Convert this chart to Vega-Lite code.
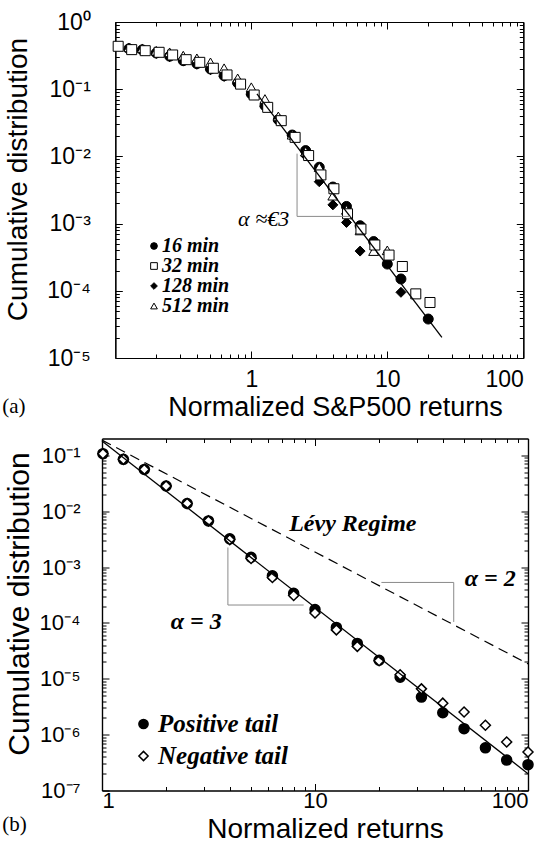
{
  "$schema": "https://vega.github.io/schema/vega-lite/v6.json",
  "background": "white",
  "padding": {"left": 2, "top": 11, "right": 0, "bottom": 0},
  "config": {
    "view": {"stroke": null},
    "axis": {"grid": false, "domain": true, "domainColor": "black", "domainWidth": 1.2, "tickColor": "black", "tickWidth": 1, "labelColor": "black", "titleColor": "black", "labelFont": "Liberation Sans", "titleFont": "Liberation Sans", "titleFontWeight": "normal"},
    "font": "Liberation Sans"
  },
  "resolve": {"scale": {"shape": "independent", "fill": "independent", "stroke": "independent"}, "legend": {"shape": "independent", "fill": "independent", "stroke": "independent"}},
  "datasets": {
    "ptsA": [
      {"x": 0.126, "y": 0.40, "s": "16 min"}, {"x": 0.158, "y": 0.385, "s": "16 min"}, {"x": 0.2, "y": 0.346, "s": "16 min"}, {"x": 0.251, "y": 0.31, "s": "16 min"}, {"x": 0.316, "y": 0.266, "s": "16 min"}, {"x": 0.398, "y": 0.24, "s": "16 min"}, {"x": 0.501, "y": 0.20, "s": "16 min"}, {"x": 0.631, "y": 0.159, "s": "16 min"}, {"x": 0.794, "y": 0.124, "s": "16 min"}, {"x": 1.0, "y": 0.085, "s": "16 min"}, {"x": 1.26, "y": 0.057, "s": "16 min"}, {"x": 1.58, "y": 0.0352, "s": "16 min"}, {"x": 2.0, "y": 0.0208, "s": "16 min"}, {"x": 2.51, "y": 0.0122, "s": "16 min"}, {"x": 3.16, "y": 0.0069, "s": "16 min"}, {"x": 3.98, "y": 0.0035, "s": "16 min"}, {"x": 5.01, "y": 0.0018, "s": "16 min"}, {"x": 6.31, "y": 0.00093, "s": "16 min"}, {"x": 7.94, "y": 0.00054, "s": "16 min"}, {"x": 10.0, "y": 0.00025, "s": "16 min"}, {"x": 12.6, "y": 0.00015, "s": "16 min"}, {"x": 20.0, "y": 0.000038, "s": "16 min"},
      {"x": 0.126, "y": 0.39, "s": "128 min"}, {"x": 0.158, "y": 0.375, "s": "128 min"}, {"x": 0.2, "y": 0.34, "s": "128 min"}, {"x": 0.251, "y": 0.305, "s": "128 min"}, {"x": 0.316, "y": 0.262, "s": "128 min"}, {"x": 0.398, "y": 0.235, "s": "128 min"}, {"x": 0.501, "y": 0.195, "s": "128 min"}, {"x": 0.631, "y": 0.155, "s": "128 min"}, {"x": 0.794, "y": 0.12, "s": "128 min"}, {"x": 1.0, "y": 0.083, "s": "128 min"}, {"x": 1.26, "y": 0.055, "s": "128 min"}, {"x": 1.58, "y": 0.034, "s": "128 min"}, {"x": 2.0, "y": 0.0203, "s": "128 min"}, {"x": 2.51, "y": 0.0102, "s": "128 min"}, {"x": 3.16, "y": 0.0042, "s": "128 min"}, {"x": 3.98, "y": 0.0019, "s": "128 min"}, {"x": 5.01, "y": 0.00104, "s": "128 min"}, {"x": 6.31, "y": 0.00039, "s": "128 min"}, {"x": 12.6, "y": 0.000095, "s": "128 min"},
      {"x": 0.126, "y": 0.42, "s": "512 min"}, {"x": 0.158, "y": 0.406, "s": "512 min"}, {"x": 0.2, "y": 0.374, "s": "512 min"}, {"x": 0.251, "y": 0.354, "s": "512 min"}, {"x": 0.316, "y": 0.316, "s": "512 min"}, {"x": 0.398, "y": 0.288, "s": "512 min"}, {"x": 0.501, "y": 0.251, "s": "512 min"}, {"x": 0.631, "y": 0.205, "s": "512 min"}, {"x": 0.794, "y": 0.145, "s": "512 min"}, {"x": 1.0, "y": 0.107, "s": "512 min"}, {"x": 1.26, "y": 0.0715, "s": "512 min"}, {"x": 1.58, "y": 0.0394, "s": "512 min"}, {"x": 2.0, "y": 0.021, "s": "512 min"}, {"x": 2.51, "y": 0.0118, "s": "512 min"}, {"x": 3.16, "y": 0.0069, "s": "512 min"}, {"x": 3.98, "y": 0.0026, "s": "512 min"}, {"x": 5.01, "y": 0.0016, "s": "512 min"}, {"x": 6.31, "y": 0.00079, "s": "512 min"}, {"x": 7.94, "y": 0.00039, "s": "512 min"}, {"x": 10.0, "y": 0.0004, "s": "512 min"},
      {"x": 0.105, "y": 0.435, "s": "32 min"}, {"x": 0.132, "y": 0.388, "s": "32 min"}, {"x": 0.166, "y": 0.374, "s": "32 min"}, {"x": 0.21, "y": 0.354, "s": "32 min"}, {"x": 0.264, "y": 0.323, "s": "32 min"}, {"x": 0.332, "y": 0.275, "s": "32 min"}, {"x": 0.418, "y": 0.251, "s": "32 min"}, {"x": 0.526, "y": 0.205, "s": "32 min"}, {"x": 0.663, "y": 0.163, "s": "32 min"}, {"x": 0.834, "y": 0.119, "s": "32 min"}, {"x": 1.05, "y": 0.082, "s": "32 min"}, {"x": 1.32, "y": 0.0537, "s": "32 min"}, {"x": 1.66, "y": 0.034, "s": "32 min"}, {"x": 2.1, "y": 0.0192, "s": "32 min"}, {"x": 2.64, "y": 0.0103, "s": "32 min"}, {"x": 3.25, "y": 0.0053, "s": "32 min"}, {"x": 4.05, "y": 0.0033, "s": "32 min"}, {"x": 5.1, "y": 0.0014, "s": "32 min"}, {"x": 6.4, "y": 0.00083, "s": "32 min"}, {"x": 8.1, "y": 0.00048, "s": "32 min"}, {"x": 10.3, "y": 0.00034, "s": "32 min"}, {"x": 12.9, "y": 0.00023, "s": "32 min"}, {"x": 16.2, "y": 0.00009, "s": "32 min"}, {"x": 20.6, "y": 0.000067, "s": "32 min"}
    ],
    "fitA": [{"x": 1.1, "y": 0.085}, {"x": 25.2, "y": 0.0000203}],
    "triA": [{"x": 2.17, "y": 0.011, "o": 1}, {"x": 2.17, "y": 0.00128, "o": 2}, {"x": 5.35, "y": 0.00128, "o": 3}],
    "txtA": [{"x": 1.9, "y": 0.00117, "t": "α ≈€3"}],
    "ptsB": [
      {"x": 1.01, "y": 0.107, "s": "Positive tail"}, {"x": 1.26, "y": 0.0848, "s": "Positive tail"}, {"x": 1.58, "y": 0.056, "s": "Positive tail"}, {"x": 2.0, "y": 0.0283, "s": "Positive tail"}, {"x": 2.51, "y": 0.0137, "s": "Positive tail"}, {"x": 3.16, "y": 0.0067, "s": "Positive tail"}, {"x": 3.98, "y": 0.0032, "s": "Positive tail"}, {"x": 5.01, "y": 0.0015, "s": "Positive tail"}, {"x": 6.31, "y": 0.0007, "s": "Positive tail"}, {"x": 7.94, "y": 0.00034, "s": "Positive tail"}, {"x": 10.0, "y": 0.000173, "s": "Positive tail"}, {"x": 12.6, "y": 0.000083, "s": "Positive tail"}, {"x": 15.8, "y": 0.000043, "s": "Positive tail"}, {"x": 20.0, "y": 0.0000215, "s": "Positive tail"}, {"x": 25.1, "y": 0.0000107, "s": "Positive tail"}, {"x": 31.6, "y": 0.0000047, "s": "Positive tail"}, {"x": 39.8, "y": 0.00000247, "s": "Positive tail"}, {"x": 50.1, "y": 0.00000128, "s": "Positive tail"}, {"x": 63.1, "y": 0.00000058, "s": "Positive tail"}, {"x": 79.4, "y": 0.00000035, "s": "Positive tail"}, {"x": 100.0, "y": 0.00000029, "s": "Positive tail"},
      {"x": 1.01, "y": 0.107, "s": "Negative tail"}, {"x": 1.26, "y": 0.0848, "s": "Negative tail"}, {"x": 1.58, "y": 0.056, "s": "Negative tail"}, {"x": 2.0, "y": 0.0283, "s": "Negative tail"}, {"x": 2.51, "y": 0.0137, "s": "Negative tail"}, {"x": 3.16, "y": 0.0067, "s": "Negative tail"}, {"x": 3.98, "y": 0.0031, "s": "Negative tail"}, {"x": 5.01, "y": 0.00142, "s": "Negative tail"}, {"x": 6.31, "y": 0.00065, "s": "Negative tail"}, {"x": 7.94, "y": 0.00031, "s": "Negative tail"}, {"x": 10.0, "y": 0.000151, "s": "Negative tail"}, {"x": 12.6, "y": 0.000075, "s": "Negative tail"}, {"x": 15.8, "y": 0.000038, "s": "Negative tail"}, {"x": 20.0, "y": 0.000021, "s": "Negative tail"}, {"x": 25.1, "y": 0.0000118, "s": "Negative tail"}, {"x": 31.6, "y": 0.0000066, "s": "Negative tail"}, {"x": 39.8, "y": 0.00000366, "s": "Negative tail"}, {"x": 50.1, "y": 0.00000254, "s": "Negative tail"}, {"x": 63.1, "y": 0.00000147, "s": "Negative tail"}, {"x": 79.4, "y": 0.00000074, "s": "Negative tail"}, {"x": 100.0, "y": 0.00000049, "s": "Negative tail"}
    ],
    "fitB": [{"x": 1.0, "y": 0.18}, {"x": 100.0, "y": 0.0000002}],
    "levyB": [{"x": 1.0, "y": 0.187}, {"x": 100.0, "y": 0.0000185}],
    "triB": [
      {"x": 3.9, "y": 0.00224, "o": 1, "g": "a3"}, {"x": 3.9, "y": 0.000209, "o": 2, "g": "a3"}, {"x": 8.85, "y": 0.000209, "o": 3, "g": "a3"},
      {"x": 20.5, "y": 0.00053, "o": 1, "g": "a2"}, {"x": 44.8, "y": 0.00053, "o": 2, "g": "a2"}, {"x": 44.8, "y": 0.000104, "o": 3, "g": "a2"}
    ],
    "txtB": [{"x": 15.05, "y": 0.0059, "t": "Lévy Regime"}, {"x": 66.5, "y": 0.00062, "t": "α = 2"}, {"x": 2.77, "y": 0.000105, "t": "α = 3"}]
  },
  "concat": [
    {
      "width": 421.3,
      "height": 336,
      "title": {"text": "(a)", "orient": "bottom", "anchor": "start", "frame": "group", "dx": -99.7, "offset": -7, "baseline": "alphabetic", "font": "Liberation Serif", "fontSize": 21, "fontWeight": "normal", "color": "black"},
      "resolve": {"axis": {"x": "independent", "y": "independent"}},
      "layer": [
        {
          "data": {"name": "ptsA"},
          "mark": {"type": "point", "filled": true, "strokeWidth": 1, "opacity": 1, "size": 100},
          "encoding": {
            "x": {"field": "x", "type": "quantitative", "scale": {"type": "log", "domain": [0.1, 100], "range": [13.3, 421.3], "nice": false},
              "axis": {"orient": "bottom", "values": [1, 10, 100], "tickSize": -7, "labelPadding": 17, "labelFontSize": 23, "labelExpr": "format(datum.value, 'd')", "title": "Normalized S&P500 returns", "titleFontSize": 27, "titleX": 233, "titleY": 57, "titleBaseline": "alphabetic", "titleAlign": "center"}},
            "y": {"field": "y", "type": "quantitative", "scale": {"type": "log", "domain": [0.00001, 1], "nice": false},
              "axis": {"orient": "left", "offset": -13.3, "values": [0.00001, 0.0001, 0.001, 0.01, 0.1, 1], "tickSize": -7, "labelPadding": 32, "labelFontSize": 23, "labelExpr": "'10' + (datum.value < 0.5 ? '⁻' : '') + ['⁰','¹','²','³','⁴','⁵','⁶','⁷'][round(abs(log(datum.value) / LN10))]", "title": "Cumulative distribution", "titleFontSize": 28, "titleX": -83, "titleY": 157, "titleAngle": 270, "titleBaseline": "bottom", "titleAlign": "center"}},
            "shape": {"field": "s", "type": "nominal", "scale": {"domain": ["16 min", "32 min", "128 min", "512 min"], "range": ["circle", "square", "diamond", "triangle-up"]},
              "legend": {"orient": "none", "legendX": 42, "legendY": 214, "title": null, "labelFont": "Liberation Serif", "labelFontSize": 20, "labelFontStyle": "italic", "labelFontWeight": "bold", "labelColor": "black", "symbolSize": 45, "symbolStrokeWidth": 1, "rowPadding": 0, "labelOffset": -2, "padding": 0}},
            "fill": {"field": "s", "type": "nominal", "scale": {"domain": ["16 min", "32 min", "128 min", "512 min"], "range": ["black", "white", "black", "white"]},
              "legend": {"orient": "none", "legendX": 42, "legendY": 214, "title": null, "labelFont": "Liberation Serif", "labelFontSize": 20, "labelFontStyle": "italic", "labelFontWeight": "bold", "labelColor": "black", "symbolSize": 45, "symbolStrokeWidth": 1, "rowPadding": 0, "labelOffset": -2, "padding": 0}},
            "stroke": {"field": "s", "type": "nominal", "scale": {"domain": ["16 min", "32 min", "128 min", "512 min"], "range": ["black", "black", "black", "black"]},
              "legend": {"orient": "none", "legendX": 42, "legendY": 214, "title": null, "labelFont": "Liberation Serif", "labelFontSize": 20, "labelFontStyle": "italic", "labelFontWeight": "bold", "labelColor": "black", "symbolSize": 45, "symbolStrokeWidth": 1, "rowPadding": 0, "labelOffset": -2, "padding": 0}}
          }
        },
        {
          "data": {"name": "fitA"},
          "mark": {"type": "line", "color": "black", "strokeWidth": 1.3},
          "encoding": {
            "x": {"field": "x", "type": "quantitative", "scale": {"type": "log", "domain": [0.1, 100], "range": [13.3, 421.3], "nice": false},
              "axis": {"orient": "top", "values": [0.1, 1, 10, 100], "tickSize": -7, "labels": false, "title": null}},
            "y": {"field": "y", "type": "quantitative", "scale": {"type": "log", "domain": [0.00001, 1], "nice": false},
              "axis": {"orient": "right", "values": [0.00001, 0.0001, 0.001, 0.01, 0.1, 1], "tickSize": -7, "labels": false, "title": null}}
          }
        },
        {
          "data": {"name": "triA"},
          "mark": {"type": "line", "color": "#8a8a8a", "strokeWidth": 1},
          "encoding": {
            "x": {"field": "x", "type": "quantitative", "scale": {"type": "log", "domain": [0.1, 100], "range": [13.3, 421.3], "nice": false},
              "axis": {"orient": "bottom", "values": [0.2, 0.3, 0.4, 0.5, 0.6, 0.7, 0.8, 0.9, 2, 3, 4, 5, 6, 7, 8, 9, 20, 30, 40, 50, 60, 70, 80, 90], "tickSize": -4, "labels": false, "title": null}},
            "y": {"field": "y", "type": "quantitative", "scale": {"type": "log", "domain": [0.00001, 1], "nice": false},
              "axis": {"orient": "left", "offset": -13.3, "values": [0.00002, 0.00003, 0.00004, 0.00005, 0.00006, 0.00007, 0.00008, 0.00009, 0.0002, 0.0003, 0.0004, 0.0005, 0.0006, 0.0007, 0.0008, 0.0009, 0.002, 0.003, 0.004, 0.005, 0.006, 0.007, 0.008, 0.009, 0.02, 0.03, 0.04, 0.05, 0.06, 0.07, 0.08, 0.09, 0.2, 0.3, 0.4, 0.5, 0.6, 0.7, 0.8, 0.9], "tickSize": -4, "labels": false, "title": null}},
            "order": {"field": "o", "type": "quantitative"}
          }
        },
        {
          "data": {"name": "txtA"},
          "mark": {"type": "text", "align": "right", "baseline": "middle", "font": "Liberation Serif", "fontSize": 22, "fontStyle": "italic", "color": "black"},
          "encoding": {
            "x": {"field": "x", "type": "quantitative", "scale": {"type": "log", "domain": [0.1, 100], "range": [13.3, 421.3], "nice": false},
              "axis": {"orient": "top", "values": [0.2, 0.3, 0.4, 0.5, 0.6, 0.7, 0.8, 0.9, 2, 3, 4, 5, 6, 7, 8, 9, 20, 30, 40, 50, 60, 70, 80, 90], "tickSize": -4, "labels": false, "title": null}},
            "y": {"field": "y", "type": "quantitative", "scale": {"type": "log", "domain": [0.00001, 1], "nice": false},
              "axis": {"orient": "right", "values": [0.00002, 0.00003, 0.00004, 0.00005, 0.00006, 0.00007, 0.00008, 0.00009, 0.0002, 0.0003, 0.0004, 0.0005, 0.0006, 0.0007, 0.0008, 0.0009, 0.002, 0.003, 0.004, 0.005, 0.006, 0.007, 0.008, 0.009, 0.02, 0.03, 0.04, 0.05, 0.06, 0.07, 0.08, 0.09, 0.2, 0.3, 0.4, 0.5, 0.6, 0.7, 0.8, 0.9], "tickSize": -4, "labels": false, "title": null}},
            "text": {"field": "t", "type": "nominal"}
          }
        }
      ]
    },
    {
      "width": 426,
      "height": 352,
      "title": {"text": "(b)", "orient": "bottom", "anchor": "start", "frame": "group", "dx": -99.7, "offset": -13, "baseline": "alphabetic", "font": "Liberation Serif", "fontSize": 21, "fontWeight": "normal", "color": "black"},
      "resolve": {"axis": {"x": "independent", "y": "independent"}},
      "layer": [
        {
          "data": {"name": "ptsB"},
          "mark": {"type": "point", "filled": true, "strokeWidth": 1.5, "opacity": 1, "size": 100},
          "encoding": {
            "x": {"field": "x", "type": "quantitative", "scale": {"type": "log", "domain": [1, 100], "nice": false},
              "axis": {"orient": "bottom", "values": [1, 10, 100], "tickSize": -7, "labelPadding": 7, "labelFontSize": 22, "labelExpr": "format(datum.value, 'd')", "title": "Normalized returns", "titleFontSize": 28, "titleX": 223, "titleY": 47, "titleBaseline": "alphabetic", "titleAlign": "center"}},
            "y": {"field": "y", "type": "quantitative", "scale": {"type": "log", "domain": [0.0000001, 0.2], "nice": false},
              "axis": {"orient": "left", "values": [0.0000001, 0.000001, 0.00001, 0.0001, 0.001, 0.01, 0.1], "tickSize": -7, "labelPadding": 29, "labelFontSize": 22, "labelExpr": "'10' + (datum.value < 0.5 ? '⁻' : '') + ['⁰','¹','²','³','⁴','⁵','⁶','⁷'][round(abs(log(datum.value) / LN10))]", "title": "Cumulative distribution", "titleFontSize": 30, "titleX": -68, "titleY": 165, "titleAngle": 270, "titleBaseline": "bottom", "titleAlign": "center"}},
            "shape": {"field": "s", "type": "nominal", "scale": {"domain": ["Positive tail", "Negative tail"], "range": ["circle", "diamond"]},
              "legend": {"orient": "none", "legendX": 29, "legendY": 273, "title": null, "labelFont": "Liberation Serif", "labelFontSize": 25, "labelFontStyle": "italic", "labelFontWeight": "bold", "labelColor": "black", "symbolSize": 85, "symbolStrokeWidth": 1.5, "rowPadding": 6, "labelOffset": 2, "padding": 0}},
            "fill": {"field": "s", "type": "nominal", "scale": {"domain": ["Positive tail", "Negative tail"], "range": ["black", "white"]},
              "legend": {"orient": "none", "legendX": 29, "legendY": 273, "title": null, "labelFont": "Liberation Serif", "labelFontSize": 25, "labelFontStyle": "italic", "labelFontWeight": "bold", "labelColor": "black", "symbolSize": 85, "symbolStrokeWidth": 1.5, "rowPadding": 6, "labelOffset": 2, "padding": 0}},
            "stroke": {"field": "s", "type": "nominal", "scale": {"domain": ["Positive tail", "Negative tail"], "range": ["black", "black"]},
              "legend": {"orient": "none", "legendX": 29, "legendY": 273, "title": null, "labelFont": "Liberation Serif", "labelFontSize": 25, "labelFontStyle": "italic", "labelFontWeight": "bold", "labelColor": "black", "symbolSize": 85, "symbolStrokeWidth": 1.5, "rowPadding": 6, "labelOffset": 2, "padding": 0}}
          }
        },
        {
          "data": {"name": "fitB"},
          "mark": {"type": "line", "color": "black", "strokeWidth": 1.3},
          "encoding": {
            "x": {"field": "x", "type": "quantitative", "scale": {"type": "log", "domain": [1, 100], "nice": false},
              "axis": {"orient": "top", "values": [1, 10, 100], "tickSize": -7, "labels": false, "title": null}},
            "y": {"field": "y", "type": "quantitative", "scale": {"type": "log", "domain": [0.0000001, 0.2], "nice": false},
              "axis": {"orient": "right", "values": [0.0000001, 0.000001, 0.00001, 0.0001, 0.001, 0.01, 0.1], "tickSize": -7, "labels": false, "title": null}}
          }
        },
        {
          "data": {"name": "levyB"},
          "mark": {"type": "line", "color": "black", "strokeWidth": 1.2, "strokeDash": [10, 6]},
          "encoding": {
            "x": {"field": "x", "type": "quantitative", "scale": {"type": "log", "domain": [1, 100], "nice": false}, "axis": null},
            "y": {"field": "y", "type": "quantitative", "scale": {"type": "log", "domain": [0.0000001, 0.2], "nice": false}, "axis": null}
          }
        },
        {
          "data": {"name": "triB"},
          "mark": {"type": "line", "color": "#8a8a8a", "strokeWidth": 1},
          "encoding": {
            "x": {"field": "x", "type": "quantitative", "scale": {"type": "log", "domain": [1, 100], "nice": false},
              "axis": {"orient": "bottom", "values": [2, 3, 4, 5, 6, 7, 8, 9, 20, 30, 40, 50, 60, 70, 80, 90], "tickSize": -4, "labels": false, "title": null}},
            "y": {"field": "y", "type": "quantitative", "scale": {"type": "log", "domain": [0.0000001, 0.2], "nice": false},
              "axis": {"orient": "left", "values": [0.0000002, 0.0000003, 0.0000004, 0.0000005, 0.0000006, 0.0000007, 0.0000008, 0.0000009, 0.000002, 0.000003, 0.000004, 0.000005, 0.000006, 0.000007, 0.000008, 0.000009, 0.00002, 0.00003, 0.00004, 0.00005, 0.00006, 0.00007, 0.00008, 0.00009, 0.0002, 0.0003, 0.0004, 0.0005, 0.0006, 0.0007, 0.0008, 0.0009, 0.002, 0.003, 0.004, 0.005, 0.006, 0.007, 0.008, 0.009, 0.02, 0.03, 0.04, 0.05, 0.06, 0.07, 0.08, 0.09], "tickSize": -4, "labels": false, "title": null}},
            "detail": {"field": "g", "type": "nominal"},
            "order": {"field": "o", "type": "quantitative"}
          }
        },
        {
          "data": {"name": "txtB"},
          "mark": {"type": "text", "align": "center", "baseline": "middle", "font": "Liberation Serif", "fontSize": 24, "fontStyle": "italic", "fontWeight": "bold", "color": "black"},
          "encoding": {
            "x": {"field": "x", "type": "quantitative", "scale": {"type": "log", "domain": [1, 100], "nice": false},
              "axis": {"orient": "top", "values": [2, 3, 4, 5, 6, 7, 8, 9, 20, 30, 40, 50, 60, 70, 80, 90], "tickSize": -4, "labels": false, "title": null}},
            "y": {"field": "y", "type": "quantitative", "scale": {"type": "log", "domain": [0.0000001, 0.2], "nice": false},
              "axis": {"orient": "right", "values": [0.0000002, 0.0000003, 0.0000004, 0.0000005, 0.0000006, 0.0000007, 0.0000008, 0.0000009, 0.000002, 0.000003, 0.000004, 0.000005, 0.000006, 0.000007, 0.000008, 0.000009, 0.00002, 0.00003, 0.00004, 0.00005, 0.00006, 0.00007, 0.00008, 0.00009, 0.0002, 0.0003, 0.0004, 0.0005, 0.0006, 0.0007, 0.0008, 0.0009, 0.002, 0.003, 0.004, 0.005, 0.006, 0.007, 0.008, 0.009, 0.02, 0.03, 0.04, 0.05, 0.06, 0.07, 0.08, 0.09], "tickSize": -4, "labels": false, "title": null}},
            "text": {"field": "t", "type": "nominal"}
          }
        }
      ]
    }
  ],
  "columns": 1,
  "align": "none",
  "spacing": 17.5
}
